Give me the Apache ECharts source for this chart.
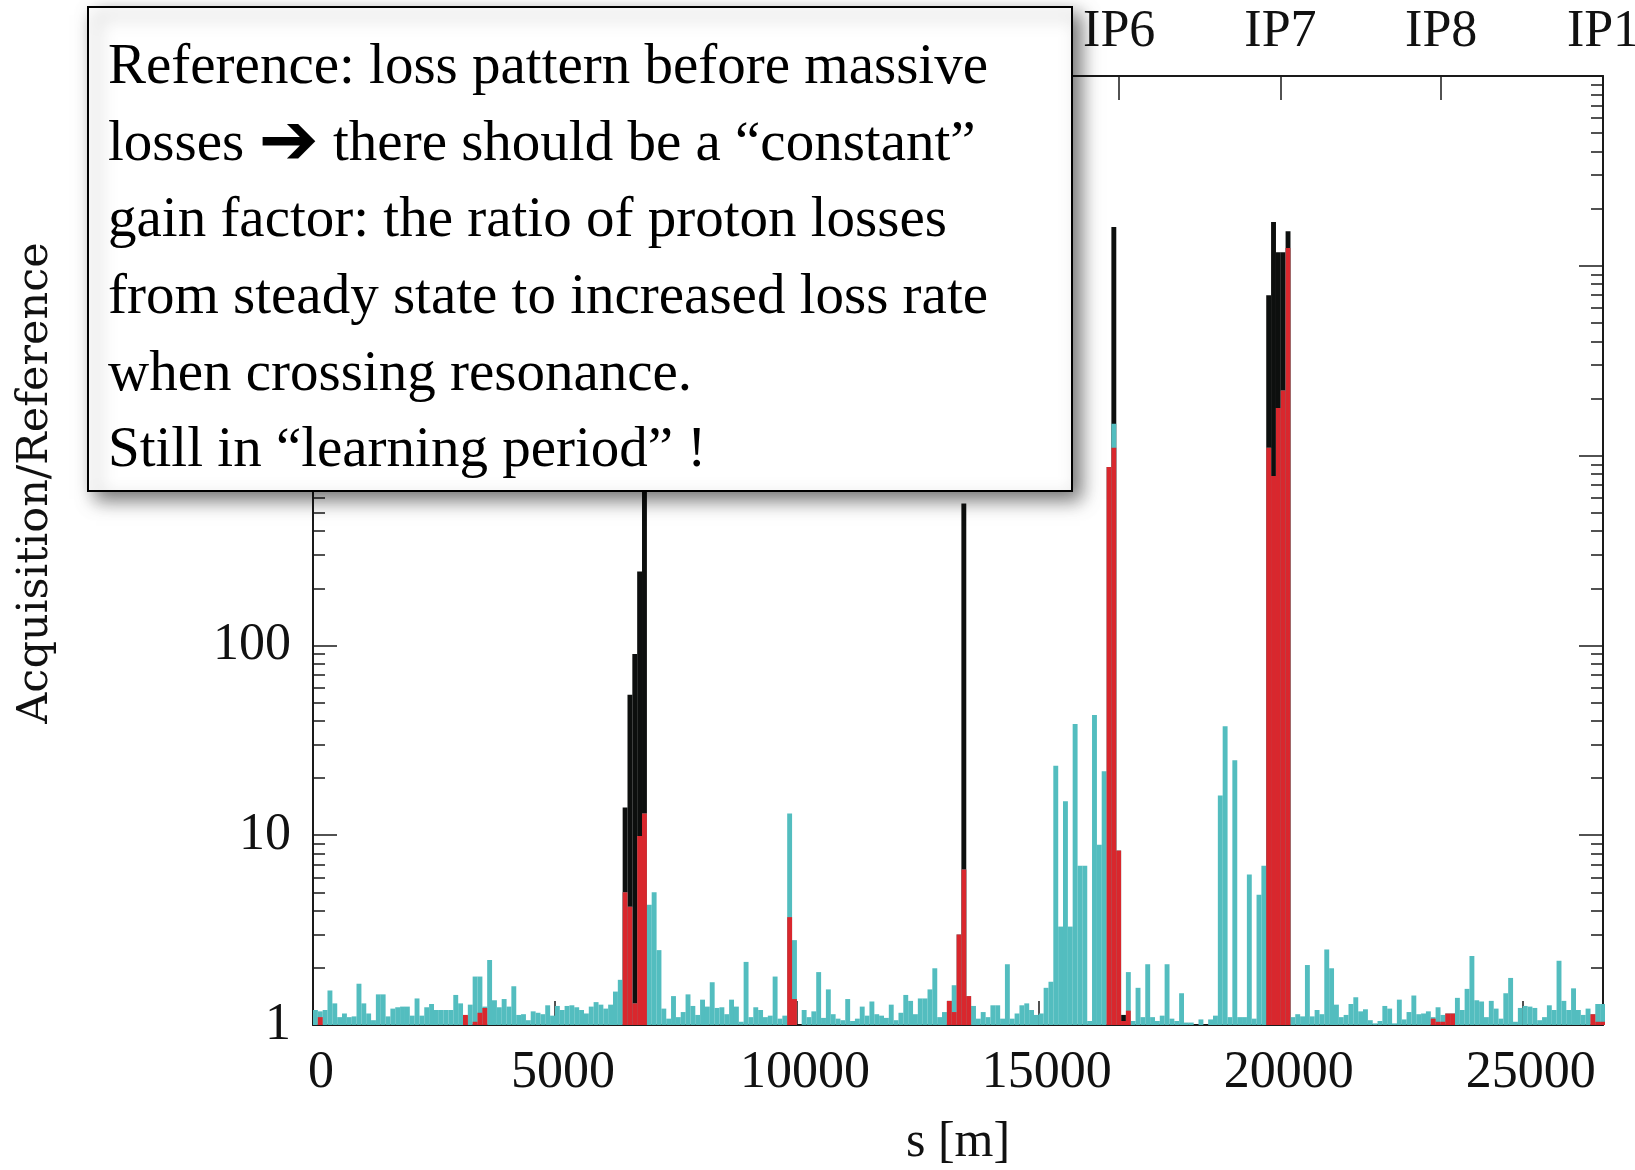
<!DOCTYPE html>
<html>
<head>
<meta charset="utf-8">
<title>Acquisition / Reference loss pattern</title>
<script src="https://cdn.jsdelivr.net/npm/echarts@6/dist/echarts.min.js"></script>
<style>
  html, body { margin: 0; padding: 0; background: #fff; }
  #chart { width: 1635px; height: 1170px; }
</style>
</head>
<body>
<div id="chart"></div>
<script>
// loss ratio per 100 m bin of s
const binWidth = 100;

const cyanLoss = [
  1.2, 1.18, 1.2, 1.52, 1.3, 1.1, 1.15, 1.1, 1.11, 1.65,
  1.3, 1.15, 1.06, 1.45, 1.45, 1.11, 1.22, 1.24, 1.25, 1.25,
  1.12, 1.38, 1.12, 1.24, 1.29, 1.2, 1.2, 1.2, 1.2, 1.44,
  1.3, 1.12, 1.28, 1.8, 1.8, 1.25, 2.2, 1.35, 1.24, 1.37,
  1.25, 1.6, 1.13, 1.14, 1.06, 1.18, 1.16, 1.14, 1.27, 1.12,
  1.26, 1.2, 1.26, 1.27, 1.24, 1.2, 1.15, 1.25, 1.32, 1.28,
  1.22, 1.28, 1.5, 1.73, 5.0, 4.2, 1.3, 9.9, 13, 4.3,
  5.0, 2.48, 1.22, 1.08, 1.42, 1.1, 1.17, 1.45, 1.26, 1.13,
  1.36, 1.25, 1.68, 1.23, 1.24, 1.14, 1.36, 1.25, 1.04, 2.15,
  1.1, 1.24, 1.2, 1.1, 1.12, 1.8, 1.08, 1.12, 13, 2.8,
  1.0, 1.2, 1.1, 1.18, 1.9, 1.09, 1.54, 1.14, 1.08, 1.06,
  1.37, 1.05, 1.08, 1.25, 1.12, 1.33, 1.14, 1.12, 1.09, 1.28,
  1.06, 1.16, 1.44, 1.34, 1.14, 1.38, 1.38, 1.54, 1.99, 1.1,
  1.17, 1.34, 1.62, 3.0, 6.6, 1.42, 1.26, 1.08, 1.17, 1.1,
  1.27, 1.27, 1.08, 2.09, 1.08, 1.15, 1.27, 1.3, 1.2, 1.13,
  1.15, 1.57, 1.69, 23.2, 3.3, 15.1, 3.3, 38.5, 6.9, 6.9,
  1.05, 43, 8.9, 21.7, 870, 1470, 8.3, 1.05, 1.9, 1.05,
  1.57, 1.1, 2.09, 1.1, 1.05, 1.12, 2.09, 1.08, 1.05, 1.47,
  1.03, 1.03, 1.0, 1.07, 1.0, 1.07, 1.12, 16.2, 37.5, 1.1,
  24.8, 1.1, 1.1, 6.2, 1.08, 4.85, 6.9, 1100, 780, 1780,
  2200, 12400, 1.1, 1.14, 1.11, 2.07, 1.11, 1.2, 1.14, 2.5,
  1.99, 1.28, 1.1, 1.13, 1.29, 1.4, 1.18, 1.21, 1.06, 1.02,
  1.05, 1.26, 1.22, 1.02, 1.36, 1.07, 1.17, 1.43, 1.14, 1.15,
  1.18, 1.1, 1.24, 1.13, 1.15, 1.15, 1.39, 1.2, 1.55, 2.31,
  1.35, 1.33, 1.1, 1.34, 1.22, 1.08, 1.47, 1.77, 1.04, 1.23,
  1.26, 1.25, 1.23, 1.06, 1.1, 1.27, 1.2, 2.18, 1.34, 1.2,
  1.56, 1.2, 1.13, 1.22, 1.14, 1.29, 1.29
];

const redBins = [1, 31, 33, 34, 35, 64, 65, 66, 67, 68, 98, 99,
  131, 132, 133, 134, 135, 164, 165, 166, 167, 168,
  197, 198, 199, 200, 201, 231, 232, 233, 234, 235, 264, 265, 266];
const redLoss = [1.1, 1.13, 1.04, 1.16, 1.23, 5.0, 4.2, 1.3, 9.9, 13, 3.7, 1.37,
  1.34, 1.17, 3.0, 6.6, 1.42, 870, 1100, 8.3, 1.05, 1.19,
  1100, 780, 1780, 2200, 12400, 1.08, 1.04, 1.04, 1.15, 1.15, 1.14, 1.04, 1.04];

const blackBins = [64, 65, 66, 67, 68, 134, 165, 167, 197, 198, 199, 200, 201];
const blackLoss = [14, 55, 90, 245, 700, 560, 16000, 1.13, 7000, 17000, 11800, 11800, 15200];

const sTicks = [0, 5000, 10000, 15000, 20000, 25000];
const ipNames = ['IP1', 'IP2', 'IP3', 'IP4', 'IP5', 'IP6', 'IP7', 'IP8', 'IP1'];
const ipPositions = [0, 3332, 6664, 9997, 13329, 16661, 19994, 23315, 26659];
const yMinor = [2, 3, 4, 5, 6, 7, 8, 9,
  20, 30, 40, 50, 60, 70, 80, 90,
  200, 300, 400, 500, 600, 700, 800, 900,
  2000, 3000, 4000, 5000, 6000, 7000, 8000, 9000,
  20000, 30000, 40000, 50000, 60000, 70000, 80000, 90000];

const noteLines = [
  'Reference: loss pattern before massive',
  'losses {arr|\u2794} there should be a \u201cconstant\u201d',
  'gain factor: the ratio of proton losses',
  'from steady state to increased loss rate',
  'when crossing resonance.',
  'Still in \u201clearning period\u201d !'
];

const binCenter = (b) => (b + 0.5) * binWidth;
const cyanData = cyanLoss.map((v, i) => [binCenter(i), v]);
const redData = redBins.map((b, k) => [binCenter(b), redLoss[k]]);
const blackData = blackBins.map((b, k) => [binCenter(b), blackLoss[k]]);

const serif = '"Liberation Serif", "Times New Roman", serif';
const axisColor = '#1a1a1a';
const lineStyle = { color: axisColor, width: 2 };
const tickStyle = { color: axisColor, width: 1.5 };
const labelStyle = { fontFamily: serif, fontSize: 52, color: '#111' };

function yAxisDef(pos, minor, showLine) {
  return {
    type: 'log',
    logBase: 10,
    min: 1,
    max: 100000,
    position: pos,
    offset: 0,
    axisLine: { show: showLine, lineStyle: lineStyle },
    axisTick: minor
      ? { show: true, inside: true, length: 12, customValues: yMinor, lineStyle: tickStyle }
      : { show: true, inside: true, length: 24, lineStyle: tickStyle },
    axisLabel: {
      show: pos === 'left' && !minor,
      margin: 22,
      formatter: (v) => String(v),
      ...labelStyle
    },
    splitLine: { show: false },
    minorTick: { show: false }
  };
}

const chart = echarts.init(document.getElementById('chart'));
chart.setOption({
  animation: false,
  backgroundColor: '#fff',
  grid: { left: 313, right: 32, top: 76, bottom: 145, containLabel: false, outerBoundsMode: 'none' },
  xAxis: [
    {
      type: 'value',
      position: 'bottom',
      min: 0,
      max: 26659,
      name: 's [m]',
      nameLocation: 'middle',
      nameGap: 93,
      nameTextStyle: { fontFamily: serif, fontSize: 50, color: '#111' },
      axisLine: { show: true, onZero: false, lineStyle: lineStyle },
      axisTick: { show: true, inside: true, length: 24, customValues: sTicks, lineStyle: tickStyle },
      axisLabel: {
        customValues: sTicks,
        formatter: (v) => String(v),
        margin: 22,
        padding: [0, 0, 0, 16],
        ...labelStyle
      },
      splitLine: { show: false }
    },
    {
      type: 'value',
      position: 'top',
      min: 0,
      max: 26659,
      axisLine: { show: true, onZero: false, lineStyle: lineStyle },
      axisTick: { show: true, inside: true, length: 24, customValues: ipPositions, lineStyle: tickStyle },
      axisLabel: {
        customValues: ipPositions,
        formatter: (v) => ipNames[ipPositions.indexOf(v)],
        margin: 18,
        ...labelStyle
      },
      splitLine: { show: false }
    }
  ],
  yAxis: [
    yAxisDef('left', false, true),
    yAxisDef('left', true, false),
    yAxisDef('right', false, true),
    yAxisDef('right', true, false)
  ],
  series: [
    {
      name: 'black',
      type: 'bar',
      data: blackData,
      barWidth: 4.9,
      barGap: '-100%',
      itemStyle: { color: '#0d0f0e' }
    },
    {
      name: 'cyan',
      type: 'bar',
      data: cyanData,
      barWidth: 4.9,
      barGap: '-100%',
      itemStyle: { color: '#53bdbf' }
    },
    {
      name: 'red',
      type: 'bar',
      data: redData,
      barWidth: 4.9,
      barGap: '-100%',
      itemStyle: { color: '#d9272d' }
    }
  ],
  graphic: [
    {
      type: 'rect',
      z: 100,
      shape: { x: 88, y: 7, width: 984, height: 484 },
      style: {
        fill: '#fff',
        stroke: '#000',
        lineWidth: 2,
        shadowBlur: 18,
        shadowOffsetX: 8,
        shadowOffsetY: 8,
        shadowColor: 'rgba(0,0,0,0.55)'
      }
    },
    {
      type: 'text',
      z: 101,
      x: 108,
      y: 30,
      style: {
        text: noteLines.join('\n'),
        fontFamily: '"Liberation Serif", "DejaVu Sans"',
        fontSize: 57,
        lineHeight: 76.6,
        fill: '#000',
        verticalAlign: 'top',
        rich: {
          arr: {
            fontFamily: '"DejaVu Sans"',
            fontSize: 72,
            lineHeight: 76.6,
            fill: '#000'
          }
        }
      }
    },
    {
      type: 'text',
      z: 101,
      x: 36,
      y: 483,
      rotation: Math.PI / 2,
      style: {
        text: 'Acquisition/Reference',
        font: '43px "DejaVu Serif"',
        align: 'center',
        verticalAlign: 'middle',
        fill: '#111'
      }
    }
  ]
});
</script>
</body>
</html>
